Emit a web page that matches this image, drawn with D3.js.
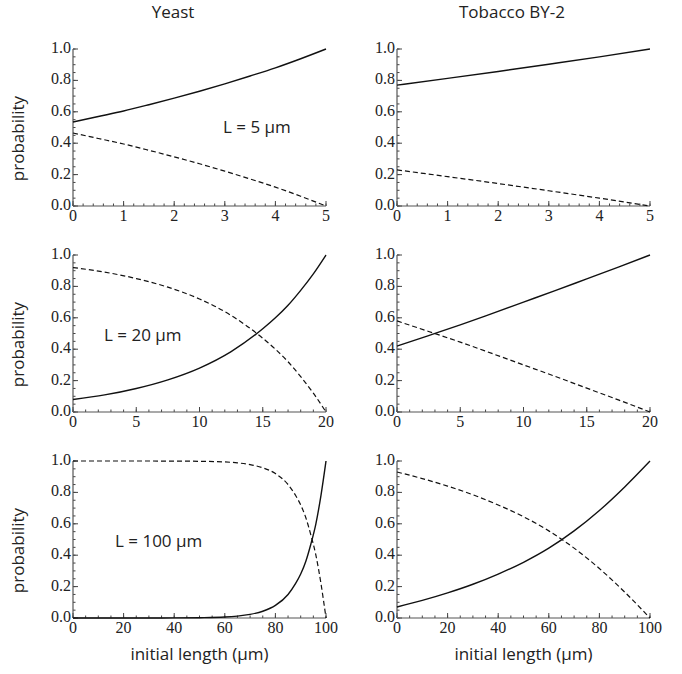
<!DOCTYPE html>
<meta charset="utf-8">
<title>probability vs initial length</title>
<script src="https://cdn.jsdelivr.net/npm/d3@7"></script>
<style>
body { margin: 0; background: #fff; }
.tick-label { font: 16px "Liberation Serif", "Times New Roman", serif; fill: #222; }
.sans { font-family: "Open Sans", "DejaVu Sans", sans-serif; fill: #222; }
.axis-line { stroke: #555; stroke-width: 1.2px; }
.tick { stroke: #444; stroke-width: 1px; }
path.solid { fill: none; stroke: #111; stroke-width: 1.4px; }
path.dashed { fill: none; stroke: #111; stroke-width: 1.2px; stroke-dasharray: 5,3; }
</style>
<body>
<script>

// column titles, row labels
var colTitles = ["Yeast", "Tobacco BY-2"];
var rowLabels = ["L = 5 \u03bcm", "L = 20 \u03bcm", "L = 100 \u03bcm"];
var xMax = [5, 20, 100];
var xMajor = [[0, 1, 2, 3, 4, 5], [0, 5, 10, 15, 20], [0, 20, 40, 60, 80, 100]];
var xMinorStep = [0.2, 1, 5];
var yMajor = [0, 0.2, 0.4, 0.6, 0.8, 1.0];

// values
var yeast5X = [0, 0.5, 1, 1.5, 2, 2.5, 3, 3.5, 4, 4.5, 5];
var yeast5Solid = [0.535, 0.570, 0.605, 0.645, 0.687, 0.731, 0.778, 0.828, 0.880, 0.938, 1.0];
var yeast5Dashed = [0.465, 0.430, 0.395, 0.355, 0.313, 0.269, 0.222, 0.172, 0.120, 0.062, 0];

var tobacco5X = [0, 1, 2, 3, 4, 5];
var tobacco5Solid = [0.770, 0.813, 0.857, 0.903, 0.950, 1.0];
var tobacco5Dashed = [0.230, 0.187, 0.143, 0.097, 0.050, 0];

var yeast20X = [0, 2.5, 5, 7.5, 10, 12.5, 15, 16, 17, 18, 19, 20];
var yeast20Solid = [0.08, 0.109, 0.15, 0.205, 0.28, 0.385, 0.53, 0.60, 0.68, 0.775, 0.88, 1.0];
var yeast20Dashed = [0.92, 0.891, 0.85, 0.795, 0.72, 0.615, 0.47, 0.40, 0.32, 0.225, 0.12, 0];

var tobacco20X = [0, 2.5, 5, 7.5, 10, 12.5, 15, 17.5, 20];
var tobacco20Solid = [0.420, 0.487, 0.555, 0.627, 0.700, 0.773, 0.848, 0.923, 1.0];
var tobacco20Dashed = [0.580, 0.513, 0.445, 0.373, 0.300, 0.227, 0.152, 0.077, 0];

var yeast100X = [0, 10, 20, 30, 40, 50, 60, 65, 70, 75, 80, 85, 88, 90, 92, 94, 96, 98, 100];
var yeast100Solid = [0, 0, 0, 0.0001, 0.0005, 0.002, 0.006, 0.012, 0.023, 0.043, 0.08, 0.15, 0.22, 0.28, 0.36, 0.47, 0.60, 0.78, 1.0];
var yeast100Dashed = [1, 1, 1, 0.9999, 0.9995, 0.998, 0.994, 0.988, 0.977, 0.957, 0.92, 0.85, 0.78, 0.72, 0.64, 0.53, 0.40, 0.22, 0];

var tobacco100X = [0, 10, 20, 30, 40, 50, 60, 70, 80, 90, 100];
var tobacco100Solid = [0.07, 0.112, 0.16, 0.215, 0.28, 0.355, 0.445, 0.555, 0.685, 0.835, 1.0];
var tobacco100Dashed = [0.93, 0.888, 0.84, 0.785, 0.72, 0.645, 0.555, 0.445, 0.315, 0.165, 0];

var panels = [
  [{x: yeast5X, solid: yeast5Solid, dashed: yeast5Dashed}, {x: tobacco5X, solid: tobacco5Solid, dashed: tobacco5Dashed}],
  [{x: yeast20X, solid: yeast20Solid, dashed: yeast20Dashed}, {x: tobacco20X, solid: tobacco20Solid, dashed: tobacco20Dashed}],
  [{x: yeast100X, solid: yeast100Solid, dashed: yeast100Dashed}, {x: tobacco100X, solid: tobacco100Solid, dashed: tobacco100Dashed}]
];

// layout
var W = 682, H = 674;
var colLeft = [73, 397], plotW = 253;
var rowTop = [49, 255, 461], plotH = 157;
var titleX = [173, 512];
var labelPos = [[223, 133], [104, 341], [115, 547]];

var svg = d3.select("body").append("svg")
    .attr("width", W)
    .attr("height", H);

colTitles.forEach(function(t, c) {
  svg.append("text")
      .attr("class", "sans")
      .attr("x", titleX[c])
      .attr("y", 18)
      .attr("text-anchor", "middle")
      .attr("font-size", "17px")
      .text(t);

  svg.append("text")
      .attr("class", "sans")
      .attr("x", colLeft[c] + plotW / 2)
      .attr("y", 660)
      .attr("text-anchor", "middle")
      .attr("font-size", "17px")
      .text("initial length (\u03bcm)");
});

for (var r = 0; r < 3; r++) {
  // y axis title
  svg.append("text")
      .attr("class", "sans")
      .attr("transform", "translate(24," + (rowTop[r] + plotH / 2 + 11) + ") rotate(-90)")
      .attr("text-anchor", "middle")
      .attr("font-size", "17px")
      .text("probability");

  for (var c = 0; c < 2; c++) {
    var g = svg.append("g")
        .attr("transform", "translate(" + colLeft[c] + "," + rowTop[r] + ")");

    var x = d3.scaleLinear().domain([0, xMax[r]]).range([0, plotW]);
    var y = d3.scaleLinear().domain([0, 1]).range([plotH, 0]);

    // minor ticks (inward)
    var xMinor = d3.range(0, xMax[r] + 1e-9, xMinorStep[r]);
    g.selectAll(".xminor").data(xMinor).enter().append("line")
        .attr("class", "tick")
        .attr("x1", function(d) { return x(d); })
        .attr("x2", function(d) { return x(d); })
        .attr("y1", plotH)
        .attr("y2", plotH - 2.5);
    g.selectAll(".xmajor").data(xMajor[r]).enter().append("line")
        .attr("class", "tick")
        .attr("x1", function(d) { return x(d); })
        .attr("x2", function(d) { return x(d); })
        .attr("y1", plotH)
        .attr("y2", plotH - 5);

    var yMinor = d3.range(0, 1.0001, 0.05);
    g.selectAll(".yminor").data(yMinor).enter().append("line")
        .attr("class", "tick")
        .attr("x1", 0)
        .attr("x2", 2.5)
        .attr("y1", function(d) { return y(d); })
        .attr("y2", function(d) { return y(d); });
    g.selectAll(".ymajor").data(yMajor).enter().append("line")
        .attr("class", "tick")
        .attr("x1", 0)
        .attr("x2", 5)
        .attr("y1", function(d) { return y(d); })
        .attr("y2", function(d) { return y(d); });

    // axis lines
    g.append("line").attr("class", "axis-line")
        .attr("x1", 0).attr("x2", plotW).attr("y1", plotH).attr("y2", plotH);
    g.append("line").attr("class", "axis-line")
        .attr("x1", 0).attr("x2", 0).attr("y1", 0).attr("y2", plotH);

    // tick labels
    g.selectAll(".xlab").data(xMajor[r]).enter().append("text")
        .attr("class", "tick-label")
        .attr("x", function(d) { return x(d); })
        .attr("y", plotH + 15)
        .attr("text-anchor", "middle")
        .text(function(d) { return d; });
    g.selectAll(".ylab").data(yMajor).enter().append("text")
        .attr("class", "tick-label")
        .attr("x", -2)
        .attr("y", function(d) { return y(d) + 4; })
        .attr("text-anchor", "end")
        .text(function(d) { return d3.format(".1f")(d); });

    // curves
    var p = panels[r][c];
    var line = d3.line()
        .x(function(d) { return x(d[0]); })
        .y(function(d) { return y(d[1]); })
        .curve(d3.curveMonotoneX);

    g.append("path").attr("class", "dashed")
        .attr("d", line(d3.zip(p.x, p.dashed)));
    g.append("path").attr("class", "solid")
        .attr("d", line(d3.zip(p.x, p.solid)));
  }

  // L label sits in the yeast panel
  svg.append("text")
      .attr("class", "sans")
      .attr("x", labelPos[r][0])
      .attr("y", labelPos[r][1])
      .attr("font-size", "17px")
      .text(rowLabels[r]);
}

</script>
</body>
</html>
